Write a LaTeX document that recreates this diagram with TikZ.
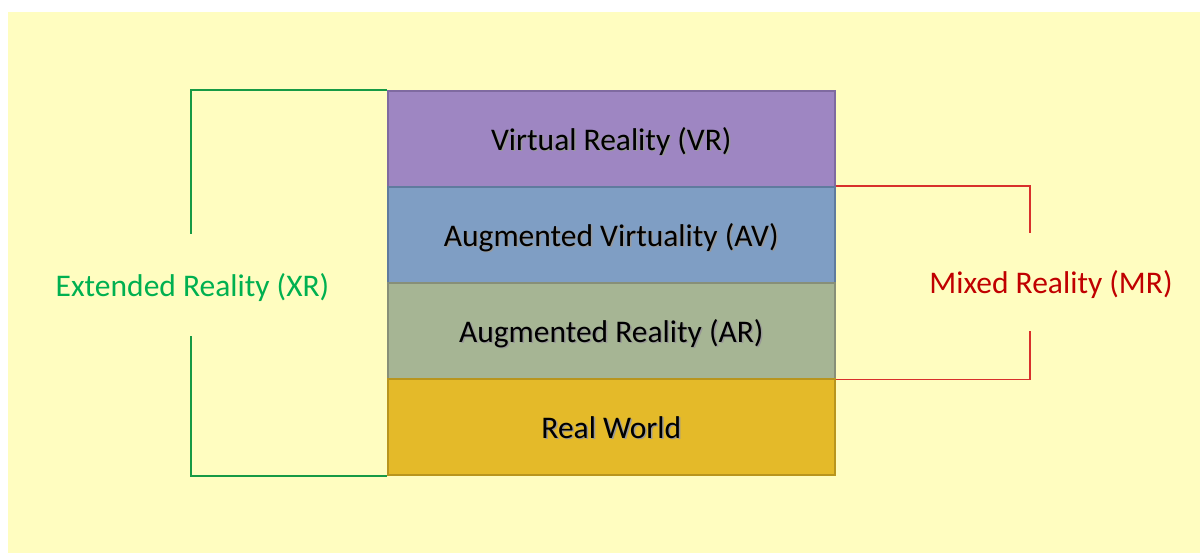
\documentclass[tikz,border=0pt]{standalone}
\usepackage{fontspec}
\setmainfont{Carlito}
\definecolor{paper}{HTML}{FFFDC0}
\definecolor{vrfill}{HTML}{9E86C2}
\definecolor{vrline}{HTML}{7F6AA0}
\definecolor{avfill}{HTML}{7F9EC4}
\definecolor{avline}{HTML}{5F7B9E}
\definecolor{arfill}{HTML}{A6B594}
\definecolor{arline}{HTML}{878F78}
\definecolor{rwfill}{HTML}{E4BA29}
\definecolor{rwline}{HTML}{B8951E}
\definecolor{xrgreen}{HTML}{00B050}
\definecolor{xrline}{HTML}{179A45}
\definecolor{mrred}{HTML}{C00000}
\definecolor{mrline}{HTML}{D8302C}
\newcommand{\shadowtext}[1]{%
  \makebox[0pt][l]{\raisebox{-1.5pt}{\hspace{1.5pt}\textcolor{black!40}{#1}}}#1}
\begin{document}
\begin{tikzpicture}[x=1pt,y=-1pt,
  layer/.style={draw, line width=1.6pt, minimum width=447pt, minimum height=96pt,
    inner sep=0pt, anchor=north west, font=\fontsize{31.5}{36}\selectfont, text=black},
  sidelabel/.style={font=\fontsize{31.5}{36}\selectfont, anchor=base, inner sep=0pt},
  xrbracket/.style={draw=xrline, line width=1.8pt},
  mrbracket/.style={draw=mrline, line width=1.6pt}]
  % page and backdrop
  \useasboundingbox (0,0) rectangle (1200,553);
  \fill[white] (0,0) rectangle (1200,553);
  \fill[paper] (8,12) rectangle (1200,553);

  % stacked reality layers
  \node[layer, fill=vrfill, draw=vrline] (vr) at (387,90) {};
  \node[layer, fill=avfill, draw=avline] (av) at (387,186) {};
  \node[layer, fill=arfill, draw=arline] (ar) at (387,282) {};
  \node[layer, fill=rwfill, draw=rwline] (rw) at (387,378) {};

  \foreach \n/\t in {vr/Virtual Reality (VR), av/Augmented Virtuality (AV),
                     ar/Augmented Reality (AR), rw/Real World}
    \node[sidelabel] at ([yshift=-11.5pt]\n.center) {\shadowtext{\t}};

  % extended reality bracket on the left
  \node[sidelabel, text=xrgreen] (xr) at (192.5,297) {Extended Reality (XR)};
  \coordinate (xrtop) at (191,234);
  \coordinate (xrbot) at (191,336);
  \draw[xrbracket] (vr.north west) -| (xrtop);
  \draw[xrbracket] (rw.south west) -| (xrbot);

  % mixed reality bracket on the right
  \node[sidelabel, text=mrred] (mr) at (1051,294) {Mixed Reality (MR)};
  \coordinate (mrtop) at (1030,233);
  \coordinate (mrbot) at (1030,331);
  \draw[mrbracket] (av.north east) -| (mrtop);
  \draw[mrbracket] (ar.south east) -| (mrbot);
\end{tikzpicture}
\end{document}
